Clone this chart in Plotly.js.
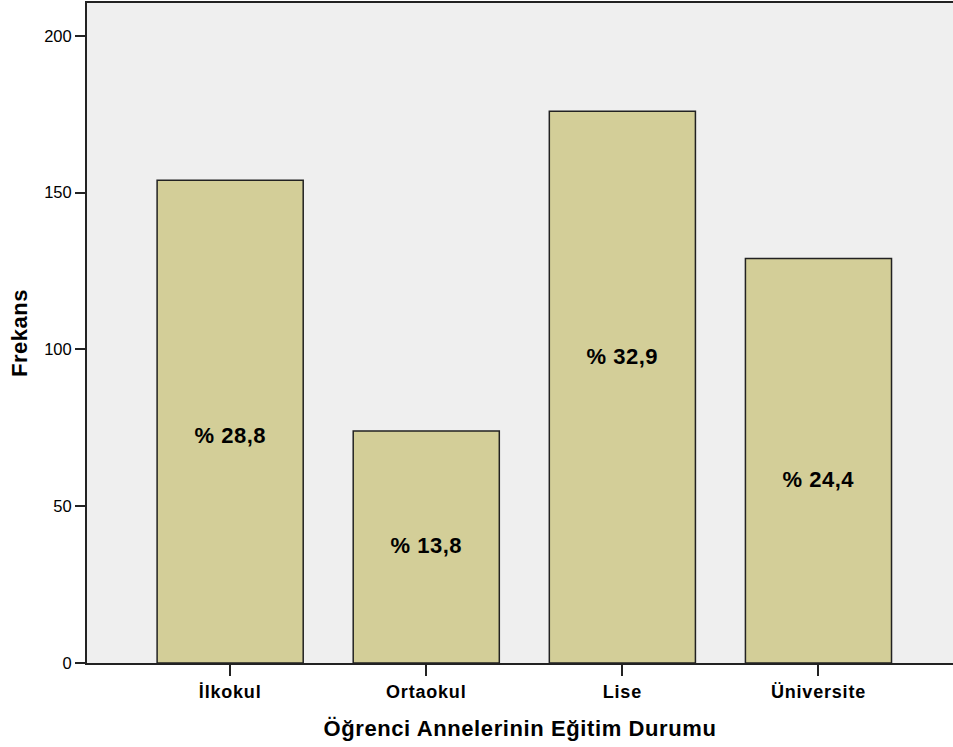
<!DOCTYPE html>
<html>
<head>
<meta charset="utf-8">
<script src="https://cdn.plot.ly/plotly-3.0.1.min.js"></script>
<style>
html,body{margin:0;padding:0;background:#fff;}
#chart{width:953px;height:747px;}
#chart .xtick text{letter-spacing:0.8px;}
#chart .g-xtitle text{letter-spacing:0.6px;}
#chart .g-ytitle text{letter-spacing:0.5px;}
#chart .annotation-text{letter-spacing:0.5px;}
</style>
</head>
<body>
<div id="chart"></div>
<script>
const categories = ["İlkokul", "Ortaokul", "Lise", "Üniversite"];
const frequencies = [154, 74, 176, 129];
const percentLabels = ["% 28,8", "% 13,8", "% 32,9", "% 24,4"];
const labelPos = [72.7, 37.6, 97.6, 58.4];
const yTicks = [0, 50, 100, 150, 200];

const trace = {
  type: "bar",
  x: [0, 1, 2, 3],
  y: frequencies,
  marker: {color: "#d3ce98", line: {color: "#222222", width: 1.5}},
  hoverinfo: "skip"
};

const annotations = categories.map((c, i) => ({
  x: i, y: labelPos[i], xref: "x", yref: "y",
  text: percentLabels[i], showarrow: false,
  font: {family: "Liberation Sans, Arial, sans-serif", size: 22, color: "#000", weight: "bold"}
}));

const layout = {
  width: 953, height: 747,
  margin: {l: 87, r: 0, t: 3, b: 84},
  paper_bgcolor: "#ffffff",
  plot_bgcolor: "#efefef",
  bargap: 0.255,
  showlegend: false,
  font: {family: "Liberation Sans, Arial, sans-serif", color: "#000"},
  xaxis: {
    range: [-0.73, 3.686],
    tickmode: "array", tickvals: [0, 1, 2, 3], ticktext: categories,
    ticks: "outside", ticklen: 11, tickwidth: 2, tickcolor: "#222",
    tickfont: {size: 18, weight: "bold", color: "#000"},
    showline: true, linecolor: "#222", linewidth: 2, mirror: true,
    showgrid: false, zeroline: false,
    title: {text: "Öğrenci Annelerinin Eğitim Durumu", font: {size: 22, weight: "bold", color: "#000"}, standoff: 20}
  },
  yaxis: {
    range: [0, 210.5],
    tickmode: "array", tickvals: yTicks,
    ticks: "outside", ticklen: 10, tickwidth: 2, tickcolor: "#222",
    tickfont: {size: 16.5, color: "#000"},
    showline: true, linecolor: "#222", linewidth: 2,
    showgrid: false, zeroline: false,
    title: {text: "Frekans", font: {size: 22, weight: "bold", color: "#000"}, standoff: 10}
  },
  annotations: annotations
};

Plotly.newPlot("chart", [trace], layout, {displayModeBar: false, staticPlot: true});
</script>
</body>
</html>
